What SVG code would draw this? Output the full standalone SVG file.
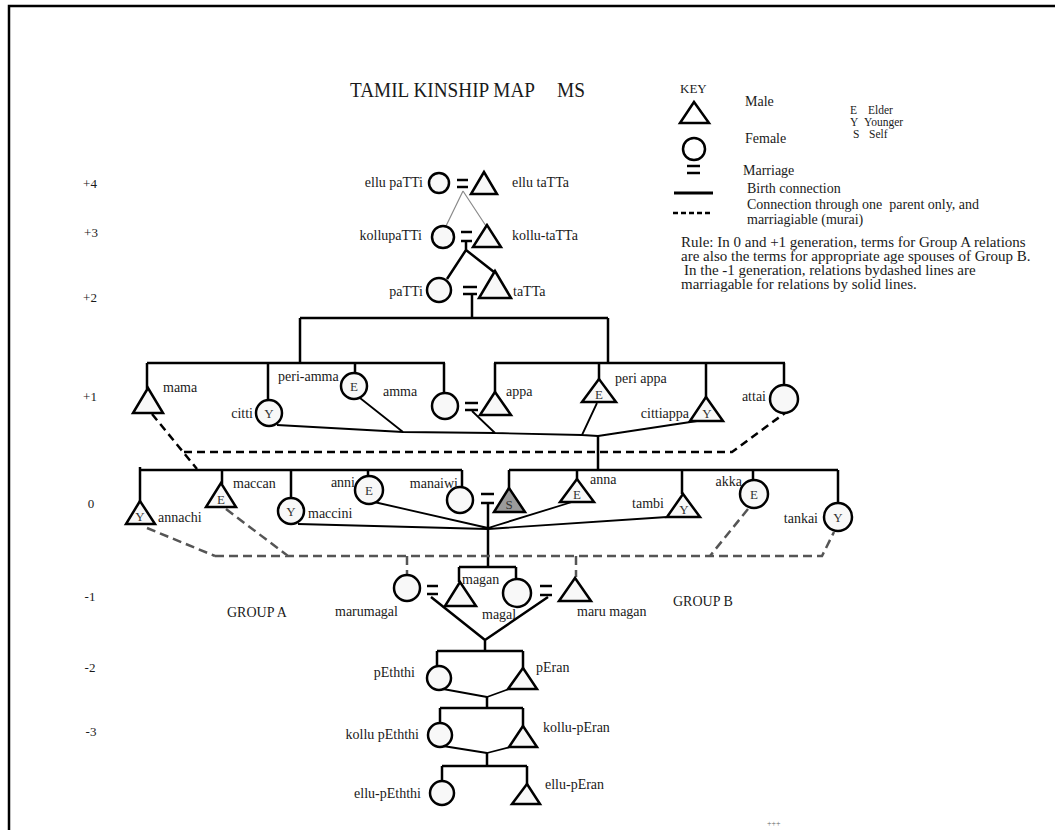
<svg xmlns="http://www.w3.org/2000/svg" width="1055" height="830" viewBox="0 0 1055 830">
<style>
.t{font-family:"Liberation Serif","Times New Roman",serif;font-size:14px;fill:#1a1a1a}
.k{font-family:"Liberation Serif","Times New Roman",serif;font-size:11.5px;fill:#1a1a1a}
.g{font-family:"Liberation Serif","Times New Roman",serif;font-size:13px;fill:#1a1a1a}
.in{font-family:"Liberation Serif","Times New Roman",serif;font-size:13px;fill:#333;text-anchor:middle}
.s{fill:#f8f8f8;stroke:#000;stroke-width:2.5}
.self{fill:#9a9a9a;stroke:#000;stroke-width:2.5}
.l{stroke:#000;stroke-width:2.5;fill:none}
.lt{stroke:#000;stroke-width:1.8;fill:none}
.gr{stroke:#8a8a8a;stroke-width:1.2;fill:none}
.d{stroke:#000;stroke-width:2.5;stroke-dasharray:8 5;fill:none}
.dg{stroke:#555;stroke-width:2.5;stroke-dasharray:9 5;fill:none}
.eq{stroke:#000;stroke-width:2.5}
</style>
<rect width="1055" height="830" fill="#fff"/>
<path d="M9 830V6H1055" fill="none" stroke="#000" stroke-width="2.5"/>

<text x="350" y="97" class="t" style="font-size:21px" textLength="185" lengthAdjust="spacingAndGlyphs">TAMIL KINSHIP MAP</text>
<text x="557" y="97" class="t" style="font-size:21px" textLength="28" lengthAdjust="spacingAndGlyphs">MS</text>

<g id="generations">
<text x="90" y="188" class="g" text-anchor="middle">+4</text>
<text x="91" y="237" class="g" text-anchor="middle">+3</text>
<text x="90" y="302" class="g" text-anchor="middle">+2</text>
<text x="90" y="401" class="g" text-anchor="middle">+1</text>
<text x="91" y="508" class="g" text-anchor="middle">0</text>
<text x="90" y="601" class="g" text-anchor="middle">-1</text>
<text x="90" y="672" class="g" text-anchor="middle">-2</text>
<text x="91" y="736" class="g" text-anchor="middle">-3</text>
</g>

<g id="key">
<text x="680" y="93" class="g">KEY</text>
<polygon points="694,102 680,123 709,123" class="s" style="fill:#fff"/>
<text x="745" y="106" class="t">Male</text>
<text class="k" y="114"><tspan x="850">E</tspan><tspan x="868">Elder</tspan></text>
<text class="k" y="126"><tspan x="850">Y</tspan><tspan x="864">Younger</tspan></text>
<text class="k" y="138"><tspan x="853">S</tspan><tspan x="869">Self</tspan></text>
<circle cx="694" cy="149" r="11" class="s" style="fill:#fff"/>
<text x="745" y="143" class="t">Female</text>
<line x1="687" y1="166" x2="700" y2="166" class="eq"/>
<line x1="687" y1="173" x2="700" y2="173" class="eq"/>
<text x="743" y="175" class="t">Marriage</text>
<line x1="674" y1="193" x2="713" y2="193" class="l" style="stroke-width:3"/>
<text x="747" y="193" class="t">Birth connection</text>
<line x1="673" y1="213" x2="713" y2="213" stroke="#000" stroke-width="2.5" stroke-dasharray="5 3"/>
<text x="747" y="209" class="t" xml:space="preserve">Connection through one  parent only, and</text>
<text x="747" y="224" class="t">marriagiable (murai)</text>
<text x="681" y="247" class="t" style="font-size:15px">Rule: In 0 and +1 generation, terms for Group A relations</text>
<text x="681" y="261" class="t" style="font-size:15px">are also the terms for appropriate age spouses of Group B.</text>
<text x="684" y="275" class="t" style="font-size:15px">In the -1 generation, relations bydashed lines are</text>
<text x="681" y="289" class="t" style="font-size:15px">marriagable for relations by solid lines.</text>
</g>

<g id="connectors">
<!-- +4 to +3 -->
<path d="M463 191L446 226M463 191L486 226" class="gr"/>
<!-- +3 to +2 -->
<path d="M466 241V250M466 250L447 279M466 250L494 272" class="l"/>
<!-- +2 to +1 -->
<path d="M472 294V318M300 318H608M300 318V363M608 318V363" class="l"/>
<path d="M147 363H445M147 363V389M268 363V400M355 363V373M444 363V393" class="l"/>
<path d="M494 363H785M495 363V393M599 363V380M706 363V398M784 363V385" class="l"/>
<!-- +1 convergence -->
<path d="M277 425L403 432L495 433L582 435L598 436M360 398L403 432M472 411L495 433M597 403L582 435M697 421L598 436" class="lt"/>
<path d="M598 436V470" class="l"/>
<!-- +1 dashed -->
<path d="M152 414L197 469M184 452H732L785 413" class="d"/>
<!-- 0 bars -->
<path d="M140 467V502M140 470H462M222 470V484M291 470V498M368 470V476M462 470V488" class="l"/>
<path d="M509 470H838M509 470V489M577 470V480M682 470V494M753 470V481M838 470V503" class="l"/>
<!-- 0 convergence -->
<path d="M298 524L488 529M374 502L488 528M572 502L488 528M667 517L488 529" class="lt"/>
<path d="M488 503V567M459 567H516M459 567V582M516 567V580" class="l"/>
<!-- 0 dashed -->
<path d="M147 528L215 556M226 509L288 556M215 556H822L834 532M748 509L710 556M407 556V575M576 556V577" class="dg"/>
<!-- -1 to -2 -->
<path d="M431 597L485 640M548 597L485 640M485 640V651M437 651H523M437 651V666M523 651V669" class="l"/>
<path d="M443 689L487 697M509 689L487 697" class="lt"/>
<path d="M487 697V708M440 708H523M440 708V723M523 708V727" class="l"/>
<path d="M443 746L487 753M510 747L487 753" class="lt"/>
<path d="M487 753V766M442 766H527M442 766V781M527 766V785" class="l"/>
</g>

<g id="ellu-paTTi"><circle cx="439" cy="183" r="10" class="s"/><text x="423" y="187" class="t" text-anchor="end">ellu paTTi</text></g>
<g id="m4"><line x1="457" y1="180" x2="468" y2="180" class="eq"/><line x1="457" y1="187" x2="468" y2="187" class="eq"/></g>
<g id="ellu-taTTa"><polygon points="484,172 471,194 497,194" class="s"/><text x="512" y="187" class="t">ellu taTTa</text></g>

<g id="kollupaTTi"><circle cx="443" cy="237" r="11" class="s"/><text x="422" y="240" class="t" text-anchor="end">kollupaTTi</text></g>
<g id="m3"><line x1="461" y1="232" x2="472" y2="232" class="eq"/><line x1="461" y1="241" x2="472" y2="241" class="eq"/></g>
<g id="kollu-taTTa"><polygon points="487,225 473,247 501,247" class="s"/><text x="512" y="240" class="t">kollu-taTTa</text></g>

<g id="paTTi"><circle cx="439" cy="290" r="12" class="s"/><text x="423" y="296" class="t" text-anchor="end">paTTi</text></g>
<g id="m2"><line x1="463" y1="287" x2="477" y2="287" class="eq"/><line x1="463" y1="294" x2="477" y2="294" class="eq"/></g>
<g id="taTTa"><polygon points="495,271 479,298 511,298" class="s"/><text x="513" y="296" class="t">taTTa</text></g>

<g id="mama"><polygon points="148,388 133,413 163,413" class="s"/><text x="163" y="392" class="t">mama</text></g>
<g id="citti"><circle cx="269" cy="413" r="13" class="s"/><text x="269" y="418" class="in">Y</text><text x="253" y="418" class="t" text-anchor="end">citti</text></g>
<g id="peri-amma"><circle cx="354" cy="386" r="13" class="s"/><text x="354" y="391" class="in">E</text><text x="278" y="381" class="t">peri-amma</text></g>
<g id="amma"><circle cx="445" cy="406" r="13" class="s"/><text x="383" y="396" class="t">amma</text></g>
<g id="m1"><line x1="465" y1="403" x2="478" y2="403" class="eq"/><line x1="465" y1="410" x2="478" y2="410" class="eq"/></g>
<g id="appa"><polygon points="495,392 480,415 511,415" class="s"/><text x="506" y="396" class="t">appa</text></g>
<g id="peri-appa"><polygon points="599,379 582,402 616,402" class="s"/><text x="599" y="399" class="in">E</text><text x="615" y="383" class="t">peri appa</text></g>
<g id="cittiappa"><polygon points="706,397 690,421 723,421" class="s"/><text x="707" y="418" class="in">Y</text><text x="689" y="418" class="t" text-anchor="end">cittiappa</text></g>
<g id="attai"><circle cx="784" cy="399" r="14" class="s"/><text x="766" y="401" class="t" text-anchor="end">attai</text></g>

<g id="annachi"><polygon points="140,501 126,524 155,524" class="s"/><text x="140" y="521" class="in">Y</text><text x="158" y="522" class="t">annachi</text></g>
<g id="maccan"><polygon points="221,483 206,507 236,507" class="s"/><text x="221" y="504" class="in">E</text><text x="233" y="488" class="t">maccan</text></g>
<g id="maccini"><circle cx="291" cy="511" r="13" class="s"/><text x="291" y="516" class="in">Y</text><text x="308" y="518" class="t">maccini</text></g>
<g id="anni"><circle cx="369" cy="490" r="14" class="s"/><text x="369" y="495" class="in">E</text><text x="355" y="487" class="t" text-anchor="end">anni</text></g>
<g id="manaiwi"><circle cx="460" cy="500" r="13" class="s"/><text x="458" y="488" class="t" text-anchor="end">manaiwi</text></g>
<g id="m0"><line x1="481" y1="494" x2="494" y2="494" class="eq"/><line x1="481" y1="503" x2="494" y2="503" class="eq"/></g>
<g id="self"><polygon points="509,488 494,512 525,512" class="self"/><text x="509" y="509" class="in">S</text></g>
<g id="anna"><polygon points="577,479 560,502 594,502" class="s"/><text x="577" y="499" class="in">E</text><text x="590" y="484" class="t">anna</text></g>
<g id="tambi"><polygon points="683,494 667,517 700,517" class="s"/><text x="684" y="514" class="in">Y</text><text x="664" y="508" class="t" text-anchor="end">tambi</text></g>
<g id="akka"><circle cx="754" cy="494" r="14" class="s"/><text x="754" y="499" class="in">E</text><text x="742" y="486" class="t" text-anchor="end">akka</text></g>
<g id="tankai"><circle cx="838" cy="517" r="14" class="s"/><text x="838" y="522" class="in">Y</text><text x="818" y="523" class="t" text-anchor="end">tankai</text></g>

<g id="marumagal"><circle cx="407" cy="588" r="13" class="s"/><text x="335" y="616" class="t">marumagal</text></g>
<g id="m-1a"><line x1="427" y1="586" x2="438" y2="586" class="eq"/><line x1="427" y1="594" x2="438" y2="594" class="eq"/></g>
<g id="magan"><polygon points="460,582 445,606 476,606" class="s"/><text x="462" y="584" class="t">magan</text></g>
<g id="magal"><circle cx="517" cy="593" r="14" class="s"/><text x="482" y="619" class="t">magal</text></g>
<g id="m-1b"><line x1="540" y1="586" x2="552" y2="586" class="eq"/><line x1="540" y1="595" x2="552" y2="595" class="eq"/></g>
<g id="maru-magan"><polygon points="575,578 559,601 591,601" class="s"/><text x="577" y="616" class="t">maru magan</text></g>
<text x="227" y="617" class="t">GROUP A</text>
<text x="673" y="606" class="t">GROUP B</text>

<g id="pEththi"><circle cx="439" cy="678" r="12" class="s"/><text x="415" y="677" class="t" text-anchor="end">pEththi</text></g>
<g id="pEran"><polygon points="523,668 508,689 537,689" class="s"/><text x="536" y="672" class="t">pEran</text></g>
<g id="kollu-pEththi"><circle cx="440" cy="735" r="12" class="s"/><text x="419" y="739" class="t" text-anchor="end">kollu pEththi</text></g>
<g id="kollu-pEran"><polygon points="523,726 509,747 537,747" class="s"/><text x="543" y="732" class="t">kollu-pEran</text></g>
<g id="ellu-pEththi"><circle cx="442" cy="793" r="12" class="s"/><text x="421" y="798" class="t" text-anchor="end">ellu-pEththi</text></g>
<g id="ellu-pEran"><polygon points="527,784 512,804 540,804" class="s"/><text x="545" y="789" class="t">ellu-pEran</text></g>

<text x="767" y="826" class="t" style="font-size:8px;fill:#666">+++</text>
</svg>
